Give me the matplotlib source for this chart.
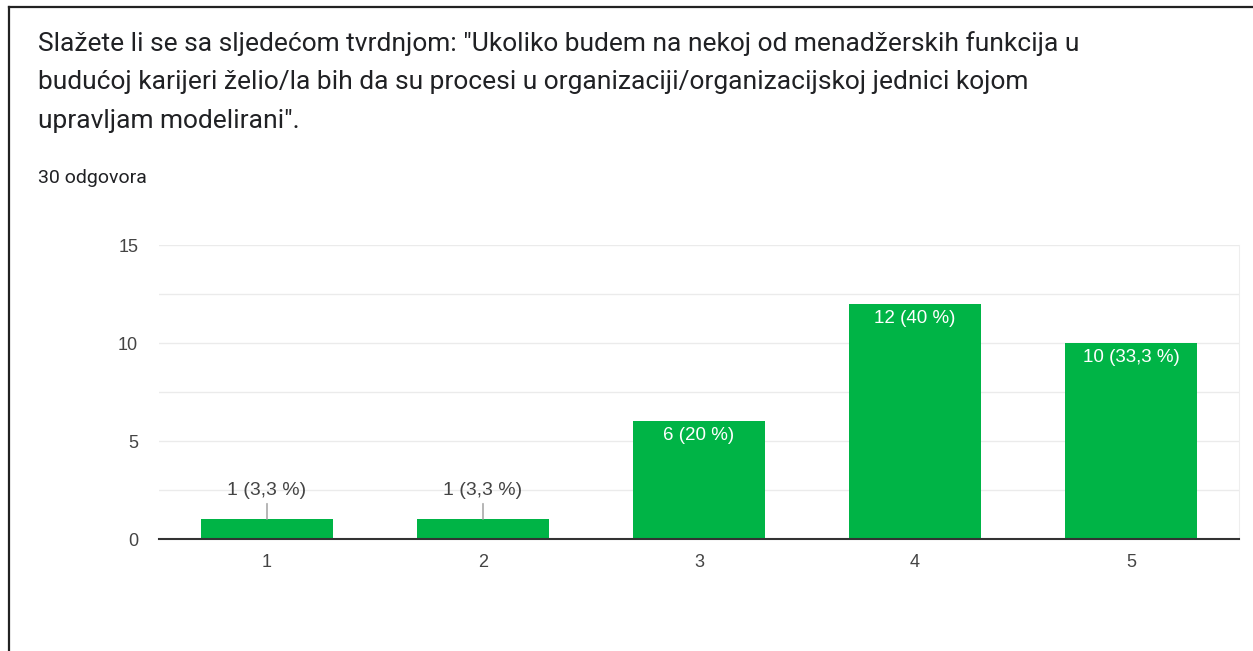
import matplotlib.pyplot as plt
from matplotlib.lines import Line2D

# podaci
ocjene = ['1', '2', '3', '4', '5']
broj_odgovora = [1, 1, 6, 12, 10]
postoci = ['3,3', '3,3', '20', '40', '33,3']
y_oznake = [0, 5, 10, 15]

naslov = [
    'Slažete li se sa sljedećom tvrdnjom: "Ukoliko budem na nekoj od menadžerskih funkcija u',
    'budućoj karijeri želio/la bih da su procesi u organizaciji/organizacijskoj jednici kojom',
    'upravljam modelirani".',
]
podnaslov = '30 odgovora'

W, H = 1253, 651
fig = plt.figure(figsize=(W / 100, H / 100), dpi=100)
fig.patch.set_facecolor('white')

# okvir (lijevo i gore)
fig.add_artist(Line2D([8.5 / W, 8.5 / W], [0, 1 - 7 / H], transform=fig.transFigure,
                      color='#222222', lw=1.6))
fig.add_artist(Line2D([8.5 / W, 1], [1 - 7 / H, 1 - 7 / H], transform=fig.transFigure,
                      color='#222222', lw=1.6))

# naslov
for i, red in enumerate(naslov):
    fig.text(38 / W, 1 - (51 + i * 38.5) / H, red, fontsize=19, family='Roboto',
             color='#202124', ha='left', va='baseline')
fig.text(38 / W, 1 - 183 / H, podnaslov, fontsize=14, family='Roboto',
         color='#202124', ha='left', va='baseline')

ax = fig.add_axes([159 / W, (H - 539) / H, 1080 / W, 294 / H])
x = list(range(1, len(ocjene) + 1))
stupci = ax.bar(x, broj_odgovora, width=0.615, color='#00b446', zorder=3)

ax.set_xlim(0.5, len(ocjene) + 0.5)
ax.set_ylim(0, 15)
ax.set_yticks(y_oznake)
ax.set_yticks([2.5, 7.5, 12.5], minor=True)
ax.set_xticks(x)
ax.set_xticklabels(ocjene)
ax.grid(axis='y', which='both', color='#ebebeb', lw=1, zorder=0)
ax.tick_params(axis='both', which='both', length=0, labelsize=13, labelcolor='#444444')
ax.tick_params(axis='y', pad=15)
ax.tick_params(axis='x', pad=11)
for lbl in ax.get_xticklabels() + ax.get_yticklabels():
    lbl.set_family('Liberation Sans')

for s in ['left', 'top']:
    ax.spines[s].set_visible(False)
ax.spines['right'].set_color('#eeeeee')
ax.spines['bottom'].set_color('#333333')
ax.spines['bottom'].set_linewidth(1.5)
ax.spines['bottom'].set_zorder(4)

for xi, v, p in zip(x, broj_odgovora, postoci):
    tekst = f'{v} ({p} %)'
    if v >= 3:
        ax.annotate(tekst, xy=(xi, v), xytext=(0, -6), textcoords='offset pixels',
                    ha='center', va='top', color='white', fontsize=13.5,
                    family='Liberation Sans', zorder=5)
    else:
        ax.annotate(tekst, xy=(xi, v), xytext=(0, 20), textcoords='offset pixels',
                    ha='center', va='bottom', color='#444444', fontsize=14,
                    family='Liberation Sans', zorder=5,
                    arrowprops=dict(arrowstyle='-', color='#999999', lw=1,
                                    shrinkA=1, shrinkB=0))

fig.savefig('out.png', dpi=100)
